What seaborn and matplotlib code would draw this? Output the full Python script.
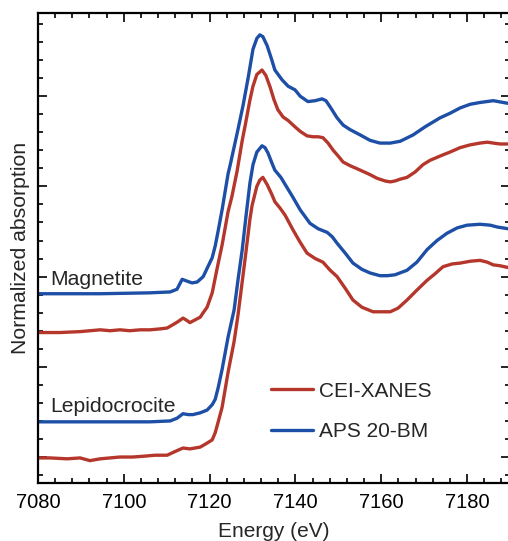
import matplotlib
matplotlib.use("Agg")
import matplotlib.pyplot as plt
import pandas as pd
import seaborn as sns
from matplotlib.ticker import MultipleLocator, NullFormatter

# Magnetite, APS 20-BM (offset stacked, arbitrary units)
mag_aps_e = [7080, 7094.5, 7106.1, 7110.8, 7112.4, 7113.6, 7114.7, 7115.9, 7117.1, 7118.5,
             7119.6, 7120.6, 7121.3, 7122.0, 7122.9, 7124.3, 7124.8, 7126.6, 7127.8, 7129.0,
             7130.1, 7131.0, 7131.7, 7132.4, 7133.4, 7134.5, 7135.2, 7136.9, 7138.3, 7139.9,
             7141.1, 7142.9, 7144.6, 7146.2, 7147.1, 7148.1, 7149.7, 7151.1, 7152.7, 7155.1,
             7157.4, 7159.7, 7162.1, 7164.4, 7167.4, 7170.2, 7173.7, 7176.0, 7178.4, 7180.7,
             7183.0, 7186.1, 7189.6]
mag_aps_y = [1.81, 1.81, 1.82, 1.83, 1.86, 1.97, 1.95, 1.93, 1.94, 2.00,
             2.11, 2.21, 2.34, 2.51, 2.74, 3.14, 3.24, 3.63, 3.90, 4.21,
             4.52, 4.64, 4.68, 4.66, 4.56, 4.40, 4.29, 4.18, 4.11, 4.07,
             4.00, 3.94, 3.95, 3.97, 3.95, 3.88, 3.76, 3.68, 3.63, 3.57,
             3.51, 3.48, 3.48, 3.50, 3.57, 3.66, 3.76, 3.81, 3.87, 3.91,
             3.93, 3.95, 3.92]

# Magnetite, CEI-XANES
mag_cei_e = [7080.0, 7085.1, 7089.8, 7094.5, 7096.8, 7099.1, 7101.4, 7103.8, 7106.1, 7108.4,
             7110.1, 7111.2, 7112.6, 7113.8, 7114.5, 7115.4, 7116.6, 7117.8, 7118.5, 7119.4,
             7120.6, 7121.7, 7122.9, 7124.3, 7125.2, 7126.4, 7127.6, 7128.3, 7129.4, 7130.1,
             7131.0, 7132.2, 7133.1, 7134.1, 7135.0, 7135.9, 7137.1, 7138.3, 7139.9, 7141.1,
             7142.7, 7144.1, 7145.3, 7146.4, 7147.6, 7148.8, 7149.9, 7151.1, 7152.7, 7155.1,
             7157.4, 7159.0, 7160.9, 7162.1, 7163.2, 7164.4, 7166.0, 7167.9, 7169.7, 7171.4,
             7174.4, 7176.0, 7178.4, 7180.7, 7183.0, 7184.7, 7186.1, 7187.7, 7189.6]
mag_cei_y = [1.38, 1.38, 1.39, 1.41, 1.40, 1.41, 1.40, 1.41, 1.41, 1.42,
             1.43, 1.46, 1.50, 1.54, 1.52, 1.49, 1.52, 1.55, 1.60, 1.66,
             1.82, 2.08, 2.35, 2.72, 2.89, 3.17, 3.51, 3.68, 3.96, 4.11,
             4.24, 4.29, 4.23, 4.10, 3.96, 3.85, 3.77, 3.73, 3.66, 3.61,
             3.56, 3.55, 3.55, 3.54, 3.48, 3.40, 3.34, 3.27, 3.23, 3.18,
             3.13, 3.09, 3.06, 3.05, 3.06, 3.08, 3.10, 3.16, 3.24, 3.29,
             3.35, 3.38, 3.43, 3.46, 3.48, 3.49, 3.48, 3.47, 3.47]

# Lepidocrocite, APS 20-BM
lep_aps_e = [7080, 7094.5, 7106.1, 7110.8, 7112.4, 7113.8, 7115.0, 7116.1, 7117.8, 7119.4,
             7120.6, 7121.3, 7122.0, 7122.9, 7124.3, 7125.7, 7126.6, 7127.6, 7128.5, 7129.4,
             7130.1, 7131.0, 7132.2, 7132.9, 7133.6, 7134.5, 7135.2, 7136.6, 7138.0, 7139.4,
             7141.1, 7143.4, 7145.3, 7147.4, 7148.6, 7149.7, 7151.6, 7153.4, 7155.5, 7157.4,
             7159.7, 7161.4, 7163.2, 7166.0, 7168.3, 7170.7, 7173.0, 7175.3, 7177.7, 7180.0,
             7183.0, 7185.4, 7187.0, 7189.6]
lep_aps_y = [0.39, 0.39, 0.39, 0.40, 0.43, 0.48, 0.47, 0.47, 0.49, 0.52,
             0.58, 0.64, 0.77, 0.97, 1.33, 1.63, 1.96, 2.30, 2.68, 3.04,
             3.24, 3.38, 3.45, 3.43, 3.37, 3.26, 3.18, 3.10, 2.99, 2.88,
             2.74, 2.59, 2.53, 2.49, 2.44, 2.37, 2.26, 2.15, 2.08, 2.04,
             2.01, 2.01, 2.02, 2.07, 2.16, 2.30, 2.40, 2.48, 2.54, 2.57,
             2.58, 2.57, 2.55, 2.53]

# Lepidocrocite, CEI-XANES
lep_cei_e = [7080.0, 7082.8, 7086.8, 7089.8, 7092.1, 7094.5, 7096.8, 7099.1, 7102.1, 7104.9,
             7107.3, 7110.1, 7111.9, 7113.8, 7115.4, 7117.8, 7118.9, 7119.6, 7120.6, 7121.3,
             7122.0, 7122.9, 7124.3, 7125.7, 7126.6, 7128.3, 7129.4, 7129.9, 7131.0, 7131.7,
             7132.4, 7133.4, 7134.5, 7135.2, 7136.4, 7137.6, 7139.4, 7141.1, 7142.7, 7144.6,
             7146.4, 7148.1, 7149.7, 7151.6, 7153.4, 7155.5, 7158.1, 7160.2, 7162.1, 7163.9,
             7166.0, 7168.3, 7170.7, 7172.5, 7174.4, 7176.5, 7178.4, 7180.7, 7183.0, 7184.7,
             7186.1, 7187.7, 7189.6]
lep_cei_y = [-0.01, -0.01, -0.02, -0.01, -0.04, -0.02, -0.01, 0.00, 0.00, 0.01,
             0.02, 0.02, 0.06, 0.10, 0.09, 0.11, 0.14, 0.16, 0.19, 0.27,
             0.39, 0.55, 0.94, 1.28, 1.57, 2.21, 2.64, 2.79, 3.00, 3.07,
             3.10, 3.02, 2.91, 2.83, 2.76, 2.68, 2.52, 2.38, 2.26, 2.20,
             2.16, 2.07, 2.00, 1.87, 1.74, 1.66, 1.61, 1.61, 1.61, 1.65,
             1.74, 1.85, 1.96, 2.03, 2.11, 2.14, 2.15, 2.17, 2.18, 2.16,
             2.13, 2.12, 2.10]

sources = ["CEI-XANES", "APS 20-BM"]
colors = {"CEI-XANES": "#b5372c", "APS 20-BM": "#1d4fa6"}


def _frame(e, y, mineral, source):
    return pd.DataFrame({"energy": e, "absorption": y, "mineral": mineral, "source": source})


df = pd.concat([
    _frame(mag_cei_e, mag_cei_y, "Magnetite", "CEI-XANES"),
    _frame(lep_cei_e, lep_cei_y, "Lepidocrocite", "CEI-XANES"),
    _frame(mag_aps_e, mag_aps_y, "Magnetite", "APS 20-BM"),
    _frame(lep_aps_e, lep_aps_y, "Lepidocrocite", "APS 20-BM"),
], ignore_index=True)

sns.set_style("ticks")
plt.rcParams["font.family"] = ["Liberation Sans", "DejaVu Sans"]

fig = plt.figure(figsize=(5.08, 5.41), dpi=100)
ax = fig.add_axes([38 / 508, 58 / 541, 472 / 508, 470 / 541])

sns.lineplot(
    data=df, x="energy", y="absorption", hue="source", hue_order=sources,
    units="mineral", estimator=None, sort=False, palette=colors,
    linewidth=2.4, solid_joinstyle="round", solid_capstyle="round", ax=ax,
)

ax.set_xlim(7080, 7190)
ax.set_ylim(-0.288, 4.922)
ax.xaxis.set_major_locator(MultipleLocator(20))
ax.xaxis.set_minor_locator(MultipleLocator(4))
ax.yaxis.set_major_locator(MultipleLocator(1))
ax.yaxis.set_minor_locator(MultipleLocator(0.2))
ax.yaxis.set_major_formatter(NullFormatter())
ax.tick_params(which="both", direction="in", top=True, right=True, width=1.2,
               labelsize=14.5, pad=7.5, colors="black")
ax.tick_params(which="major", length=6.5)
ax.tick_params(which="minor", length=3.5)
for sp in ax.spines.values():
    sp.set_linewidth(1.6)
    sp.set_color("black")

ax.set_xlabel("Energy (eV)", fontsize=15, labelpad=7)
ax.set_ylabel("Normalized absorption", fontsize=15.3, labelpad=-2)

ax.text(7082.8, 1.91, "Magnetite", fontsize=15.2, va="baseline", ha="left")
ax.text(7082.8, 0.50, "Lepidocrocite", fontsize=15.2, va="baseline", ha="left")

handles, labels = ax.get_legend_handles_labels()
ax.legend(handles, labels, loc="center left", bbox_to_anchor=(0.494, 0.152),
          frameon=False, fontsize=15, handlelength=2.0, handletextpad=0.3,
          labelspacing=1.05, borderpad=0, borderaxespad=0)

fig.savefig("out.png", dpi=100)
